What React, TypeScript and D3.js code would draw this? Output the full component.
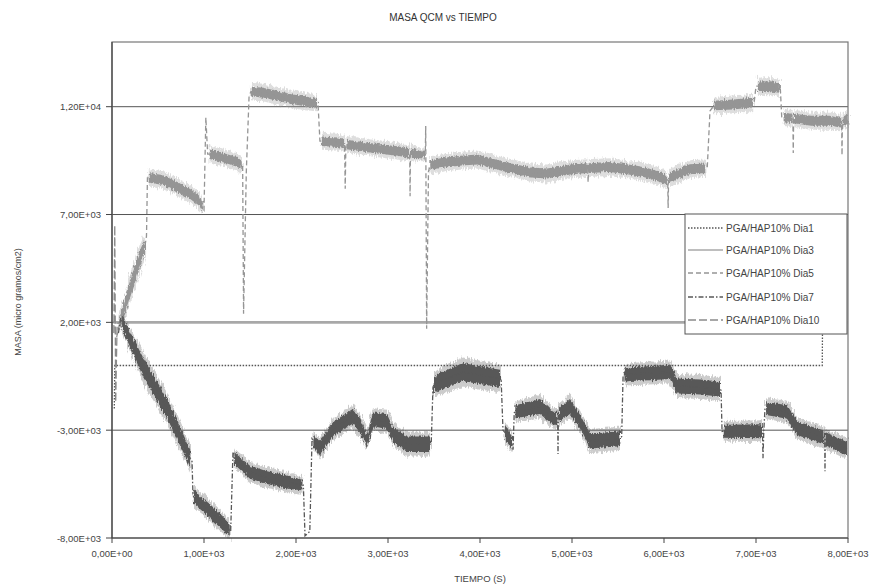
import React from 'react';
import * as d3 from 'd3';

const X_TICKS = [0, 1000, 2000, 3000, 4000, 5000, 6000, 7000, 8000];
const Y_TICKS = [-8000, -3000, 2000, 7000, 12000];
const GRID_VALUES = [-3000, 2000, 7000, 12000];
const SERIES_NAMES = ['PGA/HAP10% Dia1', 'PGA/HAP10% Dia3', 'PGA/HAP10% Dia5', 'PGA/HAP10% Dia7', 'PGA/HAP10% Dia10'];

// [tiempo, masa]
const dia1: [number, number][] = [
  [25, -2000], [30, 0], [7720, 0], [7725, 3000],
];
const dia3: [number, number][] = [
  [15, 2000], [8000, 2000],
];
const dia10: [number, number][] = [
  [20, 1500], [30, 6500], [40, -1700], [55, 1800], [70, 2000],
];
// [tiempo, masa, dispersión del ruido]
const dia5: [number, number, number][] = [
  [50, 1300, 0], [80, 1900, 250], [150, 2900, 380], [230, 4000, 400], [300, 4900, 400], [360, 5600, 300],
  [375, 6000, 0], [385, 8700, 0], [400, 8700, 220], [550, 8600, 230], [700, 8300, 230], [850, 7950, 230],
  [960, 7600, 230], [990, 7250, 150], [1000, 7200, 0], [1020, 11500, 0], [1040, 9800, 0], [1060, 9800, 220],
  [1200, 9650, 220], [1350, 9450, 220], [1410, 9300, 200], [1420, 9300, 0], [1430, 2400, 0], [1460, 9000, 0],
  [1490, 12500, 0], [1510, 12700, 220], [1650, 12650, 230], [1800, 12500, 230], [1950, 12350, 230],
  [2100, 12250, 230], [2230, 12150, 200], [2240, 12100, 0], [2260, 10400, 0], [2280, 10400, 220],
  [2450, 10350, 220], [2522, 10300, 220], [2528, 10300, 0], [2535, 8200, 0], [2542, 10250, 0], [2548, 10250, 220],
  [2800, 10100, 220], [3100, 9950, 220], [3232, 9850, 220], [3236, 9850, 0], [3240, 7850, 0], [3244, 9850, 0],
  [3248, 9850, 220], [3400, 9750, 150], [3405, 9750, 0], [3410, 11100, 0], [3420, 1700, 0], [3440, 9000, 0],
  [3460, 9300, 220], [3600, 9400, 230], [3800, 9500, 230], [3970, 9550, 230], [4150, 9350, 230],
  [4330, 9150, 230], [4550, 8950, 230], [4730, 8900, 230], [5000, 9100, 230], [5168, 9150, 230],
  [5171, 9150, 0], [5175, 8500, 0], [5179, 9150, 0], [5182, 9150, 230], [5400, 9200, 230], [5600, 9100, 230],
  [5800, 8950, 230], [5950, 8750, 230], [6035, 8600, 230], [6040, 8600, 0], [6045, 7300, 0], [6050, 8700, 0],
  [6055, 8700, 230], [6280, 9100, 230], [6450, 9150, 220], [6470, 9150, 0], [6500, 11800, 0],
  [6540, 12050, 220], [6750, 12100, 230], [6970, 12200, 220], [6980, 12200, 0], [7000, 12950, 0],
  [7020, 12950, 220], [7150, 12950, 230], [7260, 12850, 220], [7265, 12800, 0], [7280, 11500, 0],
  [7300, 11500, 220], [7398, 11450, 220], [7401, 11450, 0], [7405, 9850, 0], [7409, 11450, 0],
  [7412, 11450, 220], [7600, 11350, 230], [7800, 11350, 230], [7928, 11250, 220], [7931, 11250, 0],
  [7935, 9750, 0], [7939, 11300, 0], [7942, 11300, 220], [8000, 11450, 220],
];
const dia7: [number, number, number][] = [
  [70, 1500, 0], [95, 2200, 0], [110, 2000, 300], [340, -100, 450], [600, -2000, 450], [850, -4300, 400],
  [870, -4450, 0], [880, -6000, 0], [890, -6100, 300], [1065, -6750, 320], [1200, -7300, 320],
  [1280, -7650, 250], [1290, -7700, 0], [1315, -4000, 0], [1330, -4300, 280], [1500, -4950, 300],
  [1685, -5200, 300], [1900, -5400, 300], [2070, -5550, 250], [2080, -5550, 0], [2098, -7900, 0],
  [2150, -7700, 0], [2174, -3400, 0], [2190, -3500, 280], [2261, -3850, 320], [2402, -2950, 320],
  [2620, -2350, 340], [2700, -2800, 340], [2772, -3500, 300], [2837, -2500, 320], [2989, -2600, 340],
  [3054, -3200, 340], [3207, -3650, 360], [3457, -3650, 360], [3470, -3600, 0], [3489, -1000, 0],
  [3500, -900, 350], [3565, -750, 400], [3815, -300, 420], [4000, -450, 420], [4218, -600, 400],
  [4230, -700, 0], [4250, -3000, 0], [4270, -3100, 300], [4350, -3600, 300], [4359, -3900, 0],
  [4372, -2200, 0], [4385, -2150, 300], [4652, -1900, 350], [4794, -2450, 300], [4840, -2450, 300],
  [4844, -2450, 0], [4848, -4100, 0], [4852, -2300, 0], [4856, -2300, 300], [4978, -1900, 350],
  [5087, -2600, 320], [5196, -3500, 350], [5522, -3400, 350], [5540, -3300, 0], [5555, -500, 0],
  [5570, -450, 300], [5631, -400, 320], [5850, -350, 330], [6065, -300, 330], [6142, -950, 350],
  [6400, -1000, 350], [6609, -1100, 350], [6620, -1150, 0], [6631, -3050, 0], [6650, -3050, 300],
  [7066, -3050, 320], [7070, -3050, 0], [7076, -4300, 0], [7085, -3000, 0], [7098, -2000, 0],
  [7110, -2000, 300], [7337, -2150, 320], [7446, -2900, 320], [7744, -3350, 320], [7747, -3350, 0],
  [7750, -4900, 0], [7753, -3400, 0], [7756, -3400, 300], [7989, -3850, 320],
];

const W = 875;
const H = 588;
const M = { left: 112, right: 848, top: 42, bottom: 538 };
const FONT = "'Liberation Sans', Arial, sans-serif";

function excelFmt(v: number): string {
  if (v === 0) return '0,00E+00';
  const e = Math.floor(Math.log10(Math.abs(v)));
  const m = v / Math.pow(10, e);
  const s = m.toFixed(2).replace('.', ',');
  const es = (e >= 0 ? '+' : '-') + String(Math.abs(e)).padStart(2, '0');
  return `${s}E${es}`;
}

export default function App() {
  const x = d3.scaleLinear().domain([0, 8000]).range([M.left, M.right]);
  const y = d3.scaleLinear().domain([-8000, 15000]).range([M.bottom, M.top]);

  const line2 = d3.line<[number, number]>().x(d => x(d[0])).y(d => y(d[1]));
  const line3 = d3.line<[number, number, number]>().x(d => x(d[0])).y(d => y(d[1]));
  const band = (k: number) =>
    d3.area<[number, number, number]>()
      .defined(d => d[2] > 0)
      .x(d => x(d[0]))
      .y0(d => y(d[1] - d[2] * k))
      .y1(d => y(d[1] + d[2] * k));

  const styles = [
    { color: '#555', width: 1.3, dash: '1.5,1.5' },
    { color: '#a8a8a8', width: 2.6, dash: '' },
    { color: '#959595', width: 1.3, dash: '5,3' },
    { color: '#585858', width: 1.3, dash: '5,2,1.5,2' },
    { color: '#8a8a8a', width: 1.3, dash: '8,3' },
  ];

  const legend = { x: 685, y: 214, w: 162, h: 120 };
  const legendRows = [228, 250, 273, 297, 320];

  return (
    <svg width={W} height={H} style={{ position: 'absolute', left: 0, top: 0, background: '#fff' }}>
      <defs>
        <filter id="rough" filterUnits="userSpaceOnUse" x={0} y={0} width={W} height={H}>
          <feTurbulence type="fractalNoise" baseFrequency="0.7 0.1" numOctaves={2} seed={3} result="n" />
          <feDisplacementMap in="SourceGraphic" in2="n" scale={8} xChannelSelector="R" yChannelSelector="G" />
        </filter>
        <filter id="rough2" filterUnits="userSpaceOnUse" x={0} y={0} width={W} height={H}>
          <feTurbulence type="fractalNoise" baseFrequency="0.9 0.2" numOctaves={2} seed={7} result="n" />
          <feDisplacementMap in="SourceGraphic" in2="n" scale={5} xChannelSelector="R" yChannelSelector="G" />
        </filter>
      </defs>
      <rect x={0} y={0} width={W} height={H} fill="#fff" />
      <text x={443} y={21} textAnchor="middle" fontFamily={FONT} fontSize={10} fill="#333">MASA QCM vs TIEMPO</text>

      {GRID_VALUES.map(v => (
        <line key={v} x1={M.left} x2={M.right} y1={y(v)} y2={y(v)} stroke="#555" strokeWidth={1} />
      ))}
      <rect x={M.left} y={M.top} width={M.right - M.left} height={M.bottom - M.top} fill="none" stroke="#777" strokeWidth={1.2} />

      <g>
        <path d={line2(dia1) || ''} fill="none" stroke={styles[0].color} strokeWidth={styles[0].width} strokeDasharray={styles[0].dash} />
        <path d={line2(dia3) || ''} fill="none" stroke={styles[1].color} strokeWidth={styles[1].width} />
        <path d={band(1.8)(dia5) || ''} fill={styles[2].color} opacity={0.3} filter="url(#rough)" />
        <path d={band(1)(dia5) || ''} fill={styles[2].color} filter="url(#rough2)" />
        <path d={line3(dia5) || ''} fill="none" stroke={styles[2].color} strokeWidth={styles[2].width} strokeDasharray={styles[2].dash} />
        <path d={band(1.6)(dia7) || ''} fill={styles[3].color} opacity={0.3} filter="url(#rough)" />
        <path d={band(1)(dia7) || ''} fill={styles[3].color} filter="url(#rough2)" />
        <path d={line3(dia7) || ''} fill="none" stroke={styles[3].color} strokeWidth={styles[3].width} strokeDasharray={styles[3].dash} />
        <path d={line2(dia10) || ''} fill="none" stroke={styles[4].color} strokeWidth={styles[4].width} strokeDasharray={styles[4].dash} />
      </g>

      <line x1={M.left} x2={M.left} y1={M.top} y2={M.bottom} stroke="#444" strokeWidth={1.2} />
      <line x1={M.left} x2={M.right} y1={M.bottom} y2={M.bottom} stroke="#444" strokeWidth={1.2} />

      {Y_TICKS.map(v => (
        <g key={v}>
          <line x1={M.left - 6} x2={M.left} y1={y(v)} y2={y(v)} stroke="#444" />
          <text x={101} y={y(v) + 3.5} textAnchor="end" fontFamily={FONT} fontSize={9.5} fill="#444">{excelFmt(v)}</text>
        </g>
      ))}
      {X_TICKS.map(v => (
        <g key={v}>
          <line x1={x(v)} x2={x(v)} y1={M.bottom} y2={M.bottom + 5} stroke="#444" />
          <text x={x(v)} y={557} textAnchor="middle" fontFamily={FONT} fontSize={9.5} fill="#444">{excelFmt(v)}</text>
        </g>
      ))}
      <text x={480} y={582} textAnchor="middle" fontFamily={FONT} fontSize={9.5} fill="#444">TIEMPO (S)</text>
      <text transform={`translate(21,302) rotate(-90)`} textAnchor="middle" fontFamily={FONT} fontSize={9} fill="#444">MASA (micro gramos/cm2)</text>

      <g>
        <rect x={legend.x} y={legend.y} width={legend.w} height={legend.h} fill="#fff" stroke="#555" strokeWidth={1} />
        {SERIES_NAMES.map((name, i) => (
          <g key={name}>
            <line x1={688} x2={723} y1={legendRows[i]} y2={legendRows[i]} stroke={styles[i].color}
              strokeWidth={i === 1 ? 1.3 : styles[i].width} strokeDasharray={styles[i].dash} />
            <text x={726} y={legendRows[i] + 3.5} fontFamily={FONT} fontSize={10} fill="#444">{name}</text>
          </g>
        ))}
      </g>
    </svg>
  );
}
